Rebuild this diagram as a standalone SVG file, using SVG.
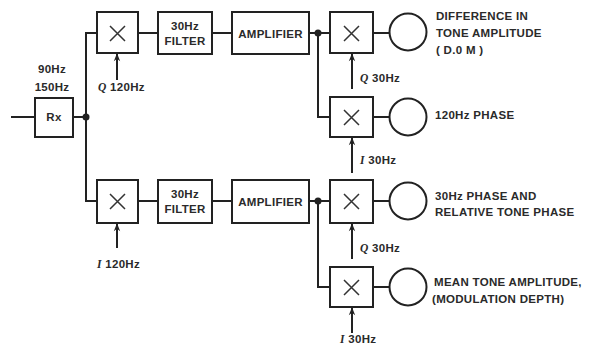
<svg xmlns="http://www.w3.org/2000/svg" width="594" height="347" viewBox="0 0 594 347">
<defs>
<style>
.box{fill:#fff;stroke:#222;stroke-width:2}
.ln{fill:none;stroke:#222;stroke-width:2}
.x{stroke:#333;stroke-width:1.5;fill:none}
.t{font-family:"Liberation Sans",Arial,sans-serif;font-size:11.5px;font-weight:bold;fill:#2a2a2a;letter-spacing:0.3px}
.c{text-anchor:middle}
.it{font-style:italic;font-family:"Liberation Serif",serif}
</style>
<marker id="ar" viewBox="0 0 10 10" refX="9" refY="5" markerWidth="9" markerHeight="8" orient="auto" markerUnits="userSpaceOnUse">
<path d="M0,1 L10,5 L0,9 L3,5 z" fill="#222"/>
</marker>
</defs>
<rect width="594" height="347" fill="#fff"/>
<g id="connectors">
<path class="ln" d="M11,117 H35"/>
<path class="ln" d="M73,117 H86"/>
<path class="ln" d="M97,33 H86 V201 H97"/>
<path class="ln" d="M138,33 H158"/>
<path class="ln" d="M212,33 H232"/>
<path class="ln" d="M309,33 H330"/>
<path class="ln" d="M318,33 V117 H330"/>
<path class="ln" d="M373,33 H389"/>
<path class="ln" d="M373,117 H389"/>
<path class="ln" d="M138,201 H158"/>
<path class="ln" d="M212,201 H232"/>
<path class="ln" d="M309,201 H330"/>
<path class="ln" d="M318,201 V287 H330"/>
<path class="ln" d="M373,201 H389"/>
<path class="ln" d="M373,287 H389"/>
<path class="ln" d="M117,80 V54" marker-end="url(#ar)"/>
<path class="ln" d="M117,248 V224" marker-end="url(#ar)"/>
<path class="ln" d="M352,89 V54" marker-end="url(#ar)"/>
<path class="ln" d="M352,173 V138" marker-end="url(#ar)"/>
<path class="ln" d="M352,259 V224" marker-end="url(#ar)"/>
<path class="ln" d="M352,333 V308" marker-end="url(#ar)"/>
<circle cx="86" cy="117" r="3.5" fill="#222"/>
<circle cx="318" cy="33" r="3.5" fill="#222"/>
<circle cx="318" cy="201" r="3.5" fill="#222"/>
</g>
<g id="rx">
<rect class="box" x="35" y="98" width="38" height="39"/>
<text class="t c" x="54" y="121">Rx</text>
<text class="t c" x="52" y="73">90Hz</text>
<text class="t c" x="52" y="91">150Hz</text>
</g>
<g id="mult1">
<rect class="box" x="97" y="12" width="41" height="41"/>
<path class="x" d="M110,26 L125,41 M125,26 L110,41"/>
<text class="t" x="98" y="91"><tspan class="it">Q</tspan> 120Hz</text>
</g>
<g id="filter1">
<rect class="box" x="158" y="12" width="54" height="42"/>
<text class="t c" x="185" y="30">30Hz</text>
<text class="t c" x="185" y="45">FILTER</text>
</g>
<g id="amp1">
<rect class="box" x="232" y="12" width="77" height="42"/>
<text class="t c" x="270.5" y="38">AMPLIFIER</text>
</g>
<g id="mult2">
<rect class="box" x="330" y="12" width="43" height="41"/>
<path class="x" d="M344,26 L359,41 M359,26 L344,41"/>
<text class="t" x="360" y="82"><tspan class="it">Q</tspan> 30Hz</text>
</g>
<g id="mult3">
<rect class="box" x="330" y="97" width="43" height="40"/>
<path class="x" d="M344,110 L359,125 M359,110 L344,125"/>
<text class="t" x="360" y="164"><tspan class="it">I</tspan> 30Hz</text>
</g>
<g id="out1">
<circle class="ln" cx="408" cy="32" r="18.5"/>
<text class="t" x="436" y="20">DIFFERENCE  IN</text>
<text class="t" x="436" y="37">TONE AMPLITUDE</text>
<text class="t" x="436" y="54">( D.0 M )</text>
</g>
<g id="out2">
<circle class="ln" cx="408" cy="117" r="18.5"/>
<text class="t" x="435" y="119">120Hz PHASE</text>
</g>
<g id="mult4">
<rect class="box" x="97" y="180" width="41" height="43"/>
<path class="x" d="M110,194 L125,209 M125,194 L110,209"/>
<text class="t" x="97" y="268"><tspan class="it">I</tspan> 120Hz</text>
</g>
<g id="filter2">
<rect class="box" x="158" y="180" width="54" height="43"/>
<text class="t c" x="185" y="198">30Hz</text>
<text class="t c" x="185" y="213">FILTER</text>
</g>
<g id="amp2">
<rect class="box" x="232" y="180" width="77" height="43"/>
<text class="t c" x="270.5" y="206">AMPLIFIER</text>
</g>
<g id="mult5">
<rect class="box" x="330" y="180" width="43" height="43"/>
<path class="x" d="M344,194 L359,209 M359,194 L344,209"/>
<text class="t" x="360" y="252"><tspan class="it">Q</tspan> 30Hz</text>
</g>
<g id="mult6">
<rect class="box" x="330" y="267" width="43" height="40"/>
<path class="x" d="M344,280 L359,295 M359,280 L344,295"/>
<text class="t" x="340" y="343"><tspan class="it">I</tspan> 30Hz</text>
</g>
<g id="out3">
<circle class="ln" cx="408" cy="201" r="18.5"/>
<text class="t" x="435" y="200">30Hz PHASE AND</text>
<text class="t" x="435" y="216">RELATIVE TONE PHASE</text>
</g>
<g id="out4">
<circle class="ln" cx="408" cy="287" r="18.5"/>
<text class="t" x="434" y="286">MEAN TONE AMPLITUDE,</text>
<text class="t" x="432" y="303">(MODULATION DEPTH)</text>
</g>
</svg>
